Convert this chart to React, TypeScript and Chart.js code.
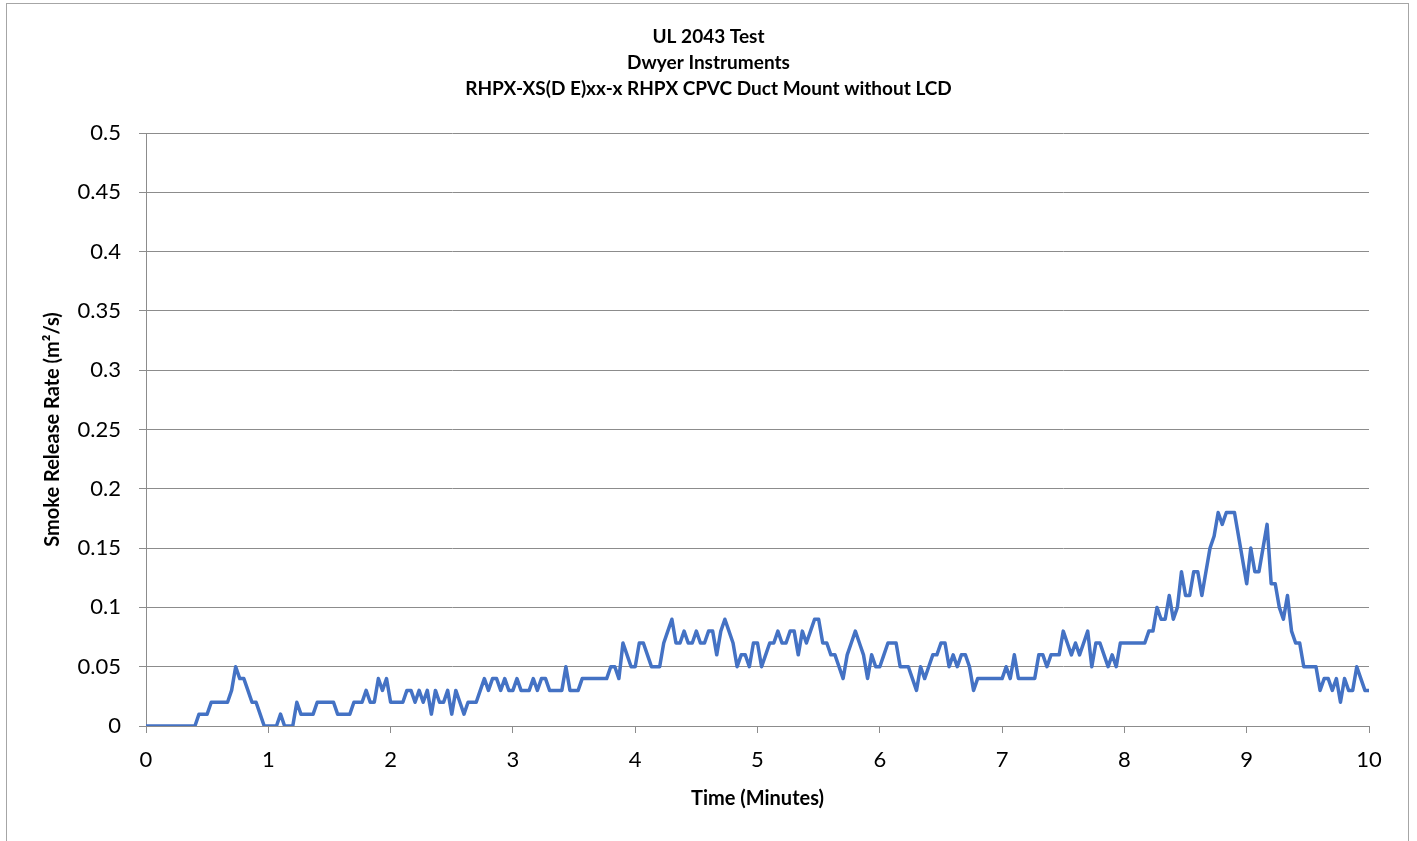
import React, { useEffect, useRef } from "react";
import { Chart, registerables } from "chart.js";

Chart.register(...registerables);

const TITLE_LINES = [
  "UL 2043 Test",
  "Dwyer Instruments",
  "RHPX-XS(D E)xx-x RHPX CPVC Duct Mount without LCD",
];
const X_TITLE = "Time (Minutes)";
const Y_TITLE = "Smoke Release Rate (m\u00B2/s)";
const X_MIN = 0;
const X_MAX = 10;
const X_STEP = 1;
const Y_MIN = 0;
const Y_MAX = 0.5;
const Y_STEP = 0.05;
const SAMPLE_SECONDS = 2;

// Smoke release rate, one reading every SAMPLE_SECONDS seconds
const smokeRate = [
  0, 0, 0, 0, 0, 0, 0, 0, 0, 0,
  0, 0, 0, 0.01, 0.01, 0.01, 0.02, 0.02, 0.02, 0.02,
  0.02, 0.03, 0.05, 0.04, 0.04, 0.03, 0.02, 0.02, 0.01, 0,
  0, 0, 0, 0.01, 0, 0, 0, 0.02, 0.01, 0.01,
  0.01, 0.01, 0.02, 0.02, 0.02, 0.02, 0.02, 0.01, 0.01, 0.01,
  0.01, 0.02, 0.02, 0.02, 0.03, 0.02, 0.02, 0.04, 0.03, 0.04,
  0.02, 0.02, 0.02, 0.02, 0.03, 0.03, 0.02, 0.03, 0.02, 0.03,
  0.01, 0.03, 0.02, 0.02, 0.03, 0.01, 0.03, 0.02, 0.01, 0.02,
  0.02, 0.02, 0.03, 0.04, 0.03, 0.04, 0.04, 0.03, 0.04, 0.03,
  0.03, 0.04, 0.03, 0.03, 0.03, 0.04, 0.03, 0.04, 0.04, 0.03,
  0.03, 0.03, 0.03, 0.05, 0.03, 0.03, 0.03, 0.04, 0.04, 0.04,
  0.04, 0.04, 0.04, 0.04, 0.05, 0.05, 0.04, 0.07, 0.06, 0.05,
  0.05, 0.07, 0.07, 0.06, 0.05, 0.05, 0.05, 0.07, 0.08, 0.09,
  0.07, 0.07, 0.08, 0.07, 0.07, 0.08, 0.07, 0.07, 0.08, 0.08,
  0.06, 0.08, 0.09, 0.08, 0.07, 0.05, 0.06, 0.06, 0.05, 0.07,
  0.07, 0.05, 0.06, 0.07, 0.07, 0.08, 0.07, 0.07, 0.08, 0.08,
  0.06, 0.08, 0.07, 0.08, 0.09, 0.09, 0.07, 0.07, 0.06, 0.06,
  0.05, 0.04, 0.06, 0.07, 0.08, 0.07, 0.06, 0.04, 0.06, 0.05,
  0.05, 0.06, 0.07, 0.07, 0.07, 0.05, 0.05, 0.05, 0.04, 0.03,
  0.05, 0.04, 0.05, 0.06, 0.06, 0.07, 0.07, 0.05, 0.06, 0.05,
  0.06, 0.06, 0.05, 0.03, 0.04, 0.04, 0.04, 0.04, 0.04, 0.04,
  0.04, 0.05, 0.04, 0.06, 0.04, 0.04, 0.04, 0.04, 0.04, 0.06,
  0.06, 0.05, 0.06, 0.06, 0.06, 0.08, 0.07, 0.06, 0.07, 0.06,
  0.07, 0.08, 0.05, 0.07, 0.07, 0.06, 0.05, 0.06, 0.05, 0.07,
  0.07, 0.07, 0.07, 0.07, 0.07, 0.07, 0.08, 0.08, 0.10, 0.09,
  0.09, 0.11, 0.09, 0.10, 0.13, 0.11, 0.11, 0.13, 0.13, 0.11,
  0.13, 0.15, 0.16, 0.18, 0.17, 0.18, 0.18, 0.18, 0.16, 0.14,
  0.12, 0.15, 0.13, 0.13, 0.15, 0.17, 0.12, 0.12, 0.10, 0.09,
  0.11, 0.08, 0.07, 0.07, 0.05, 0.05, 0.05, 0.05, 0.03, 0.04,
  0.04, 0.03, 0.04, 0.02, 0.04, 0.03, 0.03, 0.05, 0.04, 0.03,
  0.03,
];

const FONT = "Lato, 'Noto Sans', sans-serif";
const GRID = "#8c8c8c";

export default function App() {
  const ref = useRef<HTMLCanvasElement | null>(null);

  useEffect(() => {
    if (!ref.current) return;
    const points = smokeRate.map((v, i) => ({ x: (i * SAMPLE_SECONDS) / 60, y: v }));
    const chart = new Chart(ref.current, {
      type: "line",
      data: {
        datasets: [
          {
            data: points,
            borderColor: "#4472C4",
            borderWidth: 3.5,
            pointRadius: 0,
            tension: 0,
            borderJoinStyle: "round",
            borderCapStyle: "round",
            fill: false,
          },
        ],
      },
      options: {
        animation: false,
        responsive: false,
        maintainAspectRatio: false,
        layout: { padding: { left: 48, right: 48, top: 0, bottom: 20 } },
        plugins: {
          legend: { display: false },
          tooltip: { enabled: false },
          title: {
            display: true,
            text: TITLE_LINES,
            color: "#000000",
            font: { family: FONT, size: 19, weight: "bold", lineHeight: "26px" },
            padding: { top: 24, bottom: 31 },
          },
        },
        scales: {
          x: {
            type: "linear",
            min: X_MIN,
            max: X_MAX,
            ticks: {
              stepSize: X_STEP,
              color: "#000000",
              font: { family: FONT, size: 22 },
              padding: 14,
              maxRotation: 0,
            },
            grid: {
              drawOnChartArea: false,
              drawTicks: true,
              tickLength: 7,
              color: GRID,
            },
            border: { display: true, color: GRID },
            title: {
              display: true,
              text: X_TITLE,
              color: "#000000",
              font: { family: FONT, size: 20, weight: "bold" },
              padding: { top: 0, bottom: 10 },
            },
            afterFit: (scale: any) => {
              scale.height = 95;
            },
          },
          y: {
            type: "linear",
            min: Y_MIN,
            max: Y_MAX,
            ticks: {
              stepSize: Y_STEP,
              color: "#000000",
              font: { family: FONT, size: 22 },
              padding: 18,
              callback: (v: any) => String(Number(Number(v).toFixed(2))),
            },
            grid: { color: GRID, tickLength: 7 },
            border: { display: true, color: GRID },
            title: {
              display: true,
              text: Y_TITLE,
              color: "#000000",
              font: { family: FONT, size: 20, weight: "bold" },
              padding: { top: -7, bottom: 0 },
            },
            afterFit: (scale: any) => {
              scale.width = 98;
            },
          },
        },
      },
    });
    return () => chart.destroy();
  }, []);

  return (
    <div style={{ position: "absolute", left: 0, top: 0, width: 1417, height: 841, background: "#fff", overflow: "hidden" }}>
      <div
        style={{
          position: "absolute",
          left: 6,
          top: 3,
          width: 1403,
          height: 850,
          border: "1px solid #a6a6a6",
          boxSizing: "border-box",
        }}
      />
      <canvas ref={ref} width={1417} height={841} style={{ position: "absolute", left: 0, top: 0 }} />
    </div>
  );
}
